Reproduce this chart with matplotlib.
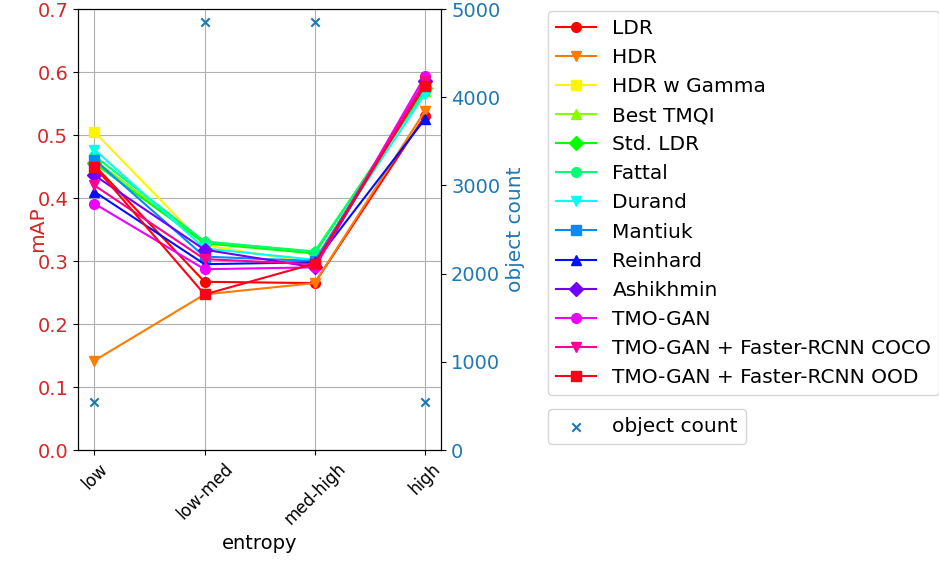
import numpy as np
import matplotlib
matplotlib.use("Agg")
import matplotlib.pyplot as plt

entropy_bins = ["low", "low-med", "med-high", "high"]

methods = ["LDR", "HDR", "HDR w Gamma", "Best TMQI", "Std. LDR", "Fattal",
           "Durand", "Mantiuk", "Reinhard", "Ashikhmin", "TMO-GAN",
           "TMO-GAN + Faster-RCNN COCO", "TMO-GAN + Faster-RCNN OOD"]

ldr = [0.452, 0.267, 0.265, 0.530]
hdr = [0.142, 0.247, 0.265, 0.538]
hdr_gamma = [0.505, 0.325, 0.297, 0.585]
best_tmqi = [0.460, 0.330, 0.315, 0.570]
std_ldr = [0.455, 0.328, 0.312, 0.575]
fattal = [0.467, 0.331, 0.315, 0.570]
durand = [0.477, 0.320, 0.302, 0.565]
mantiuk = [0.461, 0.307, 0.300, 0.580]
reinhard = [0.410, 0.295, 0.298, 0.525]
ashikhmin = [0.436, 0.318, 0.290, 0.585]
tmo_gan = [0.391, 0.287, 0.290, 0.593]
tmo_coco = [0.420, 0.303, 0.295, 0.585]
tmo_ood = [0.450, 0.247, 0.296, 0.578]

object_count = [540, 4850, 4850, 540]

series = [ldr, hdr, hdr_gamma, best_tmqi, std_ldr, fattal, durand, mantiuk,
          reinhard, ashikhmin, tmo_gan, tmo_coco, tmo_ood]
markers = ["o", "v", "s", "^", "D"]
colors = plt.cm.hsv(np.linspace(0, 1, len(series)))

plt.rcParams["font.size"] = 14

fig = plt.figure(figsize=(9.39, 5.65), dpi=100)
ax = fig.add_axes([0.083, 0.2035, 0.387, 0.7805])
x = np.arange(len(entropy_bins))

lines = []
for i, (name, vals) in enumerate(zip(methods, series)):
    l, = ax.plot(x, vals, marker=markers[i % len(markers)], color=colors[i],
                 label=name, markersize=7)
    lines.append(l)

ax.set_ylim(0, 0.7)
ax.set_xticks(x)
ax.set_xticklabels(entropy_bins, rotation=45, fontsize=12)
ax.set_xlabel("entropy", fontsize=14)
ax.set_ylabel("mAP", color="tab:red", fontsize=14.5)
ax.yaxis.set_label_coords(-0.085, 0.5)
ax.tick_params(axis="y", labelcolor="tab:red")
ax.grid(True)

ax2 = ax.twinx()
sc = ax2.scatter(x, object_count, marker="x", color="tab:blue", label="object count")
ax2.set_ylim(0, 5000)
ax2.set_ylabel("object count", color="tab:blue", fontsize=14.5)
ax2.tick_params(axis="y", labelcolor="tab:blue")

fig.legend(handles=lines, loc="upper left", bbox_to_anchor=(548 / 939, 1 - 11 / 565),
           fontsize=14.5, handlelength=2, borderaxespad=0, labelspacing=0.5)
fig.legend(handles=[sc], loc="upper left", bbox_to_anchor=(548 / 939, 1 - 409 / 565),
           fontsize=14.5, borderaxespad=0)

fig.savefig("out.png", dpi=100)
